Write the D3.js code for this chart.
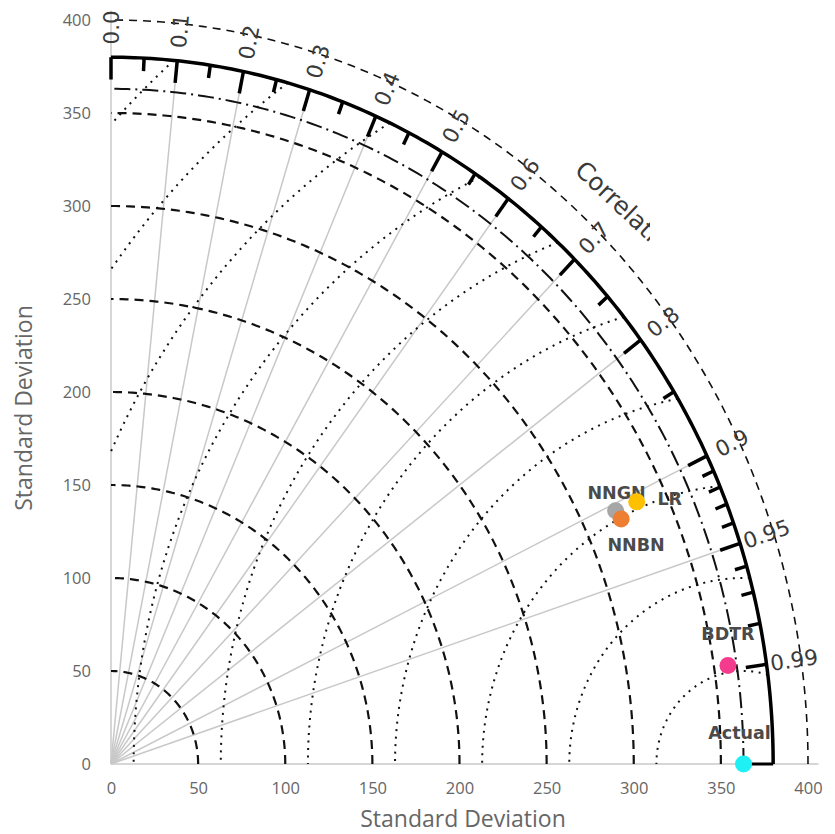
<!DOCTYPE html>
<html>
<head>
<meta charset="utf-8">
<script src="https://cdn.jsdelivr.net/npm/d3@7"></script>
<style>
  body { margin: 0; background: #fff; }
</style>
</head>
<body>
<div id="chart"></div>
<script>
const width = 835
const height = 834

// models (std dev, correlation with Actual)
const models = ["Actual", "NNGN", "NNBN", "LR", "BDTR"]
const modelStd = [363, 320, 321, 333, 358]
const modelCorr = [1.0, 0.905, 0.912, 0.906, 0.989]
const modelColors = ["#1ef0f4", "#a6a6a6", "#ee7e32", "#ffc000", "#f43b8e"]
// label offsets in px from the marker
const labelDx = [-4, 1, 15, 33, 0]
const labelDy = [-25, -12, 32, 3, -26]

const refStd = 363
const maxStd = 380

const stdTicks = [0, 50, 100, 150, 200, 250, 300, 350, 400]
const stdArcs = [50, 100, 150, 200, 250, 300, 350]
const rmsArcs = [50, 100, 150, 200, 250, 300, 350, 400, 450, 500]
const corrMajor = [0, 0.1, 0.2, 0.3, 0.4, 0.5, 0.6, 0.7, 0.8, 0.9, 0.95, 0.99]
const corrMinor = [0.05, 0.15, 0.25, 0.35, 0.45, 0.55, 0.65, 0.75, 0.85,
  0.91, 0.92, 0.93, 0.94, 0.96, 0.97, 0.98]
const corrLabels = ["0.0", "0.1", "0.2", "0.3", "0.4", "0.5", "0.6", "0.7", "0.8", "0.9", "0.95", "0.99"]
const radialLines = [0.1, 0.2, 0.3, 0.4, 0.5, 0.6, 0.7, 0.8, 0.9, 0.95]

const x = d3.scaleLinear().domain([0, 400]).range([111, 808])
const y = d3.scaleLinear().domain([0, 400]).range([764, 20])

const polar = (r, c) => [x(r * c), y(r * Math.sin(Math.acos(c)))]

const svg = d3.select("#chart").append("svg")
  .attr("width", width)
  .attr("height", height)
  .style("font-family", "'Open Sans', sans-serif")

const line = d3.line()

// std dev arc centered on origin
const arc = (r) => line(d3.range(0, 90.001, 0.5).map((a) => {
  const t = a * Math.PI / 180
  return [x(r * Math.cos(t)), y(r * Math.sin(t))]
}))

// rms contour centered on the reference, clipped to the quarter
const rmsArc = (r) => {
  const cMin = (maxStd * maxStd - refStd * refStd - r * r) / (2 * refStd * r)
  const p0 = Math.acos(Math.max(-1, Math.min(1, cMin)))
  const p1 = r <= refStd ? Math.PI : Math.acos(-refStd / r)
  if (p1 <= p0) return null
  return line(d3.range(0, 201).map((i) => {
    const p = p0 + (p1 - p0) * i / 200
    return [x(refStd + r * Math.cos(p)), y(r * Math.sin(p))]
  }))
}

// gray axes
svg.append("line")
  .attr("x1", x(0)).attr("x2", x(406))
  .attr("y1", y(0)).attr("y2", y(0))
  .attr("stroke", "#c8c8c8").attr("stroke-width", 1.5)
svg.append("line")
  .attr("x1", x(0)).attr("x2", x(0))
  .attr("y1", y(0)).attr("y2", y(405))
  .attr("stroke", "#c8c8c8").attr("stroke-width", 1.5)

// radial correlation lines
svg.append("g")
  .selectAll("line")
  .data(radialLines)
  .join("line")
  .attr("x1", x(0)).attr("y1", y(0))
  .attr("x2", (c) => polar(maxStd, c)[0])
  .attr("y2", (c) => polar(maxStd, c)[1])
  .attr("stroke", "#c8c8c8")
  .attr("stroke-width", 1.5)

// rms contours (dotted)
svg.append("g")
  .selectAll("path")
  .data(rmsArcs)
  .join("path")
  .attr("d", rmsArc)
  .attr("fill", "none")
  .attr("stroke", "#111")
  .attr("stroke-width", 2)
  .attr("stroke-dasharray", "2,5.5")

// std dev arcs (dashed)
svg.append("g")
  .selectAll("path")
  .data(stdArcs)
  .join("path")
  .attr("d", arc)
  .attr("fill", "none")
  .attr("stroke", "#111")
  .attr("stroke-width", 2.2)
  .attr("stroke-dasharray", "9,6")

svg.append("path")
  .attr("d", arc(400))
  .attr("fill", "none")
  .attr("stroke", "#111")
  .attr("stroke-width", 1.6)
  .attr("stroke-dasharray", "8,6")

// reference std arc (dash-dot)
svg.append("path")
  .attr("d", arc(refStd))
  .attr("fill", "none")
  .attr("stroke", "#111")
  .attr("stroke-width", 2)
  .attr("stroke-dasharray", "16,5,2,5")

// outer axis arc
svg.append("path")
  .attr("d", arc(maxStd))
  .attr("fill", "none")
  .attr("stroke", "#000")
  .attr("stroke-width", 3.5)

// correlation ticks
svg.append("g")
  .selectAll("line")
  .data(corrMajor)
  .join("line")
  .attr("x1", (c) => polar(maxStd, c)[0])
  .attr("y1", (c) => polar(maxStd, c)[1])
  .attr("x2", (c) => polar(maxStd - 12, c)[0])
  .attr("y2", (c) => polar(maxStd - 12, c)[1])
  .attr("stroke", "#000")
  .attr("stroke-width", 3.5)

svg.append("g")
  .selectAll("line")
  .data(corrMinor)
  .join("line")
  .attr("x1", (c) => polar(maxStd, c)[0])
  .attr("y1", (c) => polar(maxStd, c)[1])
  .attr("x2", (c) => polar(maxStd - 7, c)[0])
  .attr("y2", (c) => polar(maxStd - 7, c)[1])
  .attr("stroke", "#000")
  .attr("stroke-width", 3.5)

svg.append("line")
  .attr("x1", x(refStd)).attr("y1", y(0))
  .attr("x2", x(maxStd)).attr("y2", y(0))
  .attr("stroke", "#000")
  .attr("stroke-width", 3)

// correlation labels
const sx = x(1) - x(0)
const sy = y(0) - y(1)
svg.append("g")
  .selectAll("text")
  .data(corrMajor)
  .join("text")
  .attr("transform", (c) => {
    const [px, py] = polar(396, c)
    const s = Math.sin(Math.acos(c))
    const rot = Math.atan2(-s * sy, c * sx) * 180 / Math.PI
    return `translate(${px},${py}) rotate(${rot})`
  })
  .attr("text-anchor", "middle")
  .attr("dominant-baseline", "central")
  .style("font-family", "'DejaVu Sans', sans-serif")
  .style("font-size", "21.5px")
  .attr("fill", "#3a3a3a")
  .text((c, i) => corrLabels[i])

// "Correlation" title, cut off in the original
svg.append("clipPath")
  .attr("id", "cutTitle")
  .append("rect")
  .attr("x", 0).attr("y", 0)
  .attr("width", 650).attr("height", height)

const tc = Math.cos(45 * Math.PI / 180)
const [tx, ty] = polar(420, tc)
const titleRot = Math.atan2(-tc * sy, tc * sx) * 180 / Math.PI + 90
svg.append("g")
  .attr("clip-path", "url(#cutTitle)")
  .append("text")
  .attr("transform", `translate(${tx},${ty}) rotate(${titleRot})`)
  .attr("text-anchor", "middle")
  .attr("dominant-baseline", "central")
  .style("font-family", "'DejaVu Sans', sans-serif")
  .style("font-size", "24.5px")
  .attr("fill", "#3a3a3a")
  .text("Correlation")

// axes tick labels
svg.append("g")
  .attr("transform", `translate(0,${y(0)})`)
  .call(d3.axisBottom(x).tickValues(stdTicks).tickSize(0).tickPadding(18))
  .call((g) => g.select(".domain").remove())
  .call((g) => g.selectAll("text")
    .style("font-family", "'Open Sans', sans-serif")
    .style("font-size", "16.5px")
    .attr("fill", "#666"))

svg.append("g")
  .attr("transform", `translate(${x(0)},0)`)
  .call(d3.axisLeft(y).tickValues(stdTicks).tickSize(0).tickPadding(20))
  .call((g) => g.select(".domain").remove())
  .call((g) => g.selectAll("text")
    .style("font-family", "'Open Sans', sans-serif")
    .style("font-size", "16.5px")
    .attr("fill", "#666"))

svg.append("text")
  .attr("x", 463).attr("y", 827)
  .attr("text-anchor", "middle")
  .style("font-size", "23px")
  .attr("fill", "#666")
  .text("Standard Deviation")

svg.append("text")
  .attr("transform", "translate(32,408) rotate(-90)")
  .attr("text-anchor", "middle")
  .style("font-size", "23px")
  .attr("fill", "#666")
  .text("Standard Deviation")

// model labels then markers
const pts = models.map((m, i) => polar(modelStd[i], modelCorr[i]))

svg.append("g")
  .selectAll("text")
  .data(models)
  .join("text")
  .attr("x", (m, i) => pts[i][0] + labelDx[i])
  .attr("y", (m, i) => pts[i][1] + labelDy[i])
  .attr("text-anchor", "middle")
  .style("font-family", "'DejaVu Sans', sans-serif")
  .style("font-weight", "bold")
  .style("font-size", "17.5px")
  .attr("fill", "#4a4a4a")
  .text((m) => m)

svg.append("g")
  .selectAll("circle")
  .data(models)
  .join("circle")
  .attr("cx", (m, i) => pts[i][0])
  .attr("cy", (m, i) => pts[i][1])
  .attr("r", 8.5)
  .attr("fill", (m, i) => modelColors[i])
</script>
</body>
</html>
